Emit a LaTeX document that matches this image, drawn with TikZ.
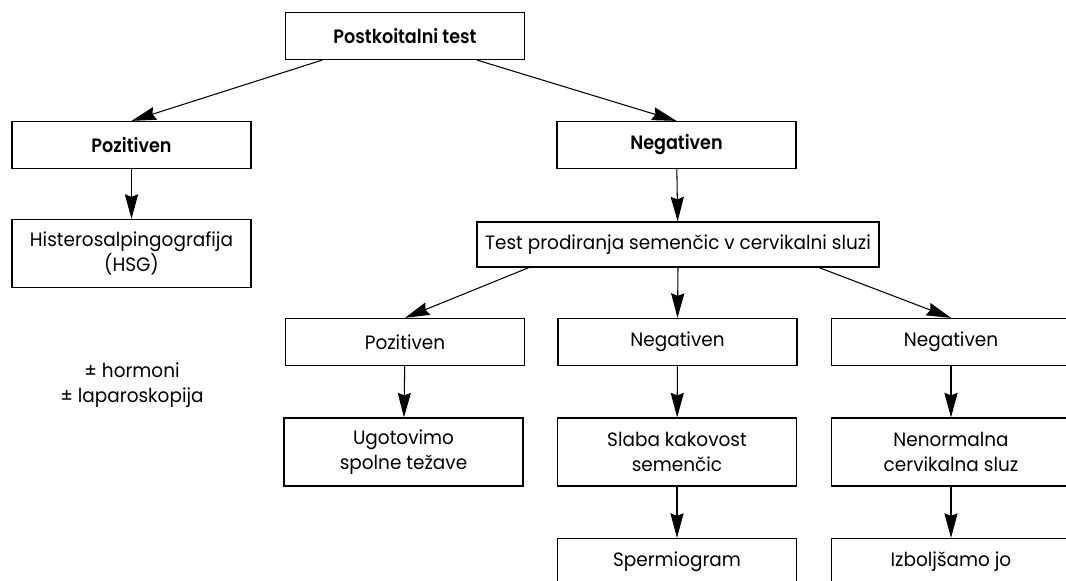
\documentclass[tikz,border=0pt]{standalone}
\usepackage{fontspec}
\setmainfont{Poppins}[FakeStretch=0.955, BoldFont={Poppins SemiBold}, BoldFeatures={FakeStretch=0.91}]
\usepackage{tikz}
\usetikzlibrary{arrows.meta,positioning,calc}

\begin{document}
\begin{tikzpicture}[x=0.02cm, y=-0.02cm,
    box/.style={draw, line width=0.7pt, minimum width=4.78cm, minimum height=0.94cm,
                align=center, inner sep=2pt, font=\fontsize{11}{14.2}\selectfont},
    hbox/.style={box, font=\fontsize{11}{14.2}\selectfont\bfseries},
    tall/.style={box, minimum height=1.36cm},
    arr/.style={-{Stealth[length=14pt,width=7.5pt,inset=1.5pt]}, line width=0.6pt}]
\useasboundingbox (0,0) rectangle (1066,581);
\clip (0,0) rectangle (1066,581);
% first level
\node[hbox] (pk) at (405,36) {Postkoitalni test};
\node[hbox] (pozA) at (131.5,145) {Pozitiven};
\node[hbox] (negA) at (676.5,145) {Negativen};
\node[tall] (hsg) at (131.5,253.5) {Histerosalpingografija\\(HSG)};
\node[align=center, font=\fontsize{11}{14.2}\selectfont] (note) at (132,385) {± hormoni\\± laparoskopija};
% penetration test
\node[box, minimum width=8.04cm, minimum height=0.9cm] (pen) at (678,244.5) {Test prodiranja semenčic v cervikalni sluzi};
\node[box] (pozB) at (405,342) {Pozitiven};
\node[box] (negB) at (677.5,342) {Negativen};
\node[box] (negC) at (951,342) {Negativen};
\node[tall] (ugo) at (403.5,452) {Ugotovimo\\spolne težave};
\node[tall] (slaba) at (677,452) {Slaba kakovost\\semenčic};
\node[tall] (nenorm) at (951,452) {Nenormalna\\cervikalna sluz};
\node[box] (sperm) at (677,562) {Spermiogram};
\node[box] (izb) at (951,562) {Izboljšamo jo};
% connectors
\draw[arr] ($(pk.south west)!.155!(pk.south east)$) -- (pozA.north);
\draw[arr] ($(pk.south west)!.80!(pk.south east)$) -- (negA.north);
\draw[arr] (pozA) -- (hsg);
\draw[arr] (negA) -- (pen);
\draw[arr] ($(pen.south west)!.13!(pen.south east)$) -- (pozB.north);
\draw[arr] (pen.south) -- (negB.north);
\draw[arr] ($(pen.south west)!.85!(pen.south east)$) -- (negC.north);
\draw[arr] (pozB) -- (ugo);
\draw[arr] (negB) -- (slaba);
\draw[arr] (negC) -- (nenorm);
\draw[arr] (slaba) -- (sperm);
\draw[arr] (nenorm) -- (izb);
\end{tikzpicture}
\end{document}
